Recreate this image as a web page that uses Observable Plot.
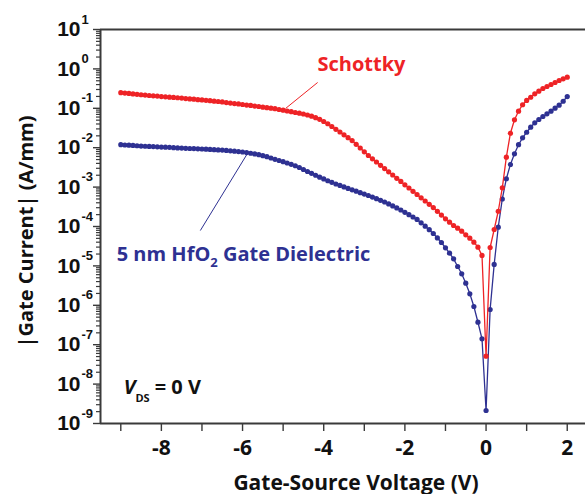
<!DOCTYPE html>
<html><head><meta charset="utf-8">
<script src="https://cdn.jsdelivr.net/npm/d3@7"></script>
<script src="https://cdn.jsdelivr.net/npm/@observablehq/plot@0.6"></script>
<style>
html,body{margin:0;padding:0;background:#fff;}
</style></head>
<body><div id="chart"></div>
<script>
// Gate-source voltage (V)
const voltage = [
 -9.0,-8.9,-8.8,-8.7,-8.6,-8.5,-8.4,-8.3,-8.2,-8.1,
 -8.0,-7.9,-7.8,-7.7,-7.6,-7.5,-7.4,-7.3,-7.2,-7.1,
 -7.0,-6.9,-6.8,-6.7,-6.6,-6.5,-6.4,-6.3,-6.2,-6.1,
 -6.0,-5.9,-5.8,-5.7,-5.6,-5.5,-5.4,-5.3,-5.2,-5.1,
 -5.0,-4.9,-4.8,-4.7,-4.6,-4.5,-4.4,-4.3,-4.2,-4.1,
 -4.0,-3.9,-3.8,-3.7,-3.6,-3.5,-3.4,-3.3,-3.2,-3.1,
 -3.0,-2.9,-2.8,-2.7,-2.6,-2.5,-2.4,-2.3,-2.2,-2.1,
 -2.0,-1.9,-1.8,-1.7,-1.6,-1.5,-1.4,-1.3,-1.2,-1.1,
 -1.0,-0.9,-0.8,-0.7,-0.6,-0.5,-0.4,-0.3,-0.2,-0.1,
 0.0,0.1,0.2,0.3,0.4,0.5,0.6,0.7,0.8,0.9,
 1.0,1.1,1.2,1.3,1.4,1.5,1.6,1.7,1.8,1.9,2.0
];
// |Gate current| (A/mm), Schottky gate
const schottky = [
 0.249,0.243,0.238,0.232,0.226,0.221,0.216,0.211,0.207,0.204,
 0.199,0.196,0.192,0.189,0.185,0.182,0.177,0.173,0.170,0.166,
 0.163,0.159,0.156,0.152,0.149,0.145,0.140,0.136,0.132,0.129,
 0.125,0.121,0.118,0.114,0.111,0.107,0.104,0.101,0.0977,0.0933,
 0.0895,0.0853,0.0820,0.0782,0.0751,0.0716,0.0676,0.0630,0.0577,0.0526,
 0.0462,0.0405,0.0345,0.0293,0.0250,0.0212,0.0180,0.0152,0.0122,0.00982,
 0.00787,0.00634,0.00522,0.00434,0.00357,0.00296,0.00244,0.00203,0.00167,0.00139,
 0.00114,0.000948,0.000782,0.000649,0.000535,0.000444,0.000366,0.000303,0.000243,0.000195,
 0.000157,0.000129,0.000106,9.06e-5,7.60e-5,6.15e-5,5.05e-5,4.00e-5,2.99e-5,1.84e-5,
 5.1e-8,2.93e-5,8.4e-5,2.44e-4,9.6e-4,5.74e-3,0.0233,0.0511,0.0844,0.123,
 0.158,0.191,0.233,0.272,0.318,0.357,0.402,0.452,0.508,0.561,0.615
];
// |Gate current| (A/mm), 5 nm HfO2 gate dielectric
const hfo2 = [
 0.0119,0.0117,0.0116,0.0114,0.0112,0.0110,0.0109,0.0108,0.0107,0.0105,
 0.0104,0.0103,0.0102,0.0100,0.00989,0.00977,0.00966,0.00955,0.00949,0.00938,
 0.00927,0.00916,0.00906,0.00890,0.00879,0.00869,0.00853,0.00834,0.00815,0.00796,
 0.00778,0.00752,0.00724,0.00697,0.00664,0.00627,0.00592,0.00548,0.00508,0.00473,
 0.00442,0.00409,0.00379,0.00348,0.00314,0.00280,0.00249,0.00224,0.00200,0.00179,
 0.00161,0.00145,0.00132,0.00120,0.00110,0.00101,0.000927,0.000853,0.000787,0.000721,
 0.000664,0.000612,0.000557,0.000508,0.000462,0.000419,0.000375,0.000333,0.000296,0.000262,
 0.000229,0.000200,0.000174,0.000151,0.000124,0.000102,8.30e-5,6.64e-5,5.14e-5,3.93e-5,
 2.88e-5,2.10e-5,1.51e-5,9.66e-6,6.30e-6,3.64e-6,1.96e-6,9.33e-7,3.72e-7,1.41e-7,
 2.14e-9,7.82e-7,1.09e-5,9.6e-5,4.99e-4,1.63e-3,3.75e-3,7.0e-3,0.0119,0.0178,
 0.0247,0.0331,0.0429,0.0520,0.0619,0.0724,0.0844,0.101,0.120,0.151,0.199
];
const xMajorTicks = [-8,-6,-4,-2,0,2];
const xMinorTicks = [-9,-7,-5,-3,-1,1];
const yDecades = [-9,-8,-7,-6,-5,-4,-3,-2,-1,0,1];
const yMinorMultipliers = [2,3,4,5,6,7,8,9];
const xLabel = "Gate-Source Voltage (V)";
const yLabel = "|Gate Current| (A/mm)";

const RED = "#ee2326", BLUE = "#2e3192", AX = "#3a3a3a";

const rows = voltage.flatMap((v, i) => [
  {V: v, I: hfo2[i], s: "HfO2"},
  {V: v, I: schottky[i], s: "Schottky"}
]);
const blueRows = rows.filter(d => d.s === "HfO2");
const redRows = rows.filter(d => d.s === "Schottky");
const minorY = yDecades.slice(0, -1).flatMap(k => yMinorMultipliers.map(m => m * 10 ** k));
const majorY = yDecades.map(k => 10 ** k);

const noteSchottky = [{text: "Schottky", V: -3.07, I: 1.3}];
const noteHfO2 = [{text: "5 nm HfO2 Gate Dielectric", V: -9.1, I: 1.9e-5}];
const noteVds = [{text: "VDS = 0 V", V: -8.93, I: 8.2e-9}];
const leaders = [
  {V1: -4.15, I1: 0.452, V2: -4.94, I2: 0.099, color: RED},
  {V1: -7.04, I1: 7.9e-5, V2: -5.88, I2: 7.1e-3, color: BLUE}
];

const chart = Plot.plot({
  width: 585, height: 494,
  marginLeft: 100, marginRight: 0, marginTop: 29, marginBottom: 71,
  style: {fontFamily: "'Open Sans', sans-serif", background: "#fff", overflow: "visible"},
  x: {domain: [-9.5, 2.45]},
  y: {type: "log", domain: [1e-9, 10]},
  marks: [
    Plot.axisY({ticks: minorY, tickSize: 4, tickFormat: () => "", stroke: AX, strokeWidth: 1.2, label: null}),
    Plot.axisY({ticks: majorY, tickSize: 7, tickFormat: () => "", stroke: AX, strokeWidth: 1.4, label: null}),
    Plot.axisX({ticks: [...xMajorTicks, ...xMinorTicks], tickSize: 8, tickPadding: 9,
      tickFormat: d => xMajorTicks.includes(d) ? String(d) : "",
      stroke: AX, strokeWidth: 1.4, fontSize: 21, fontWeight: "bold", fill: "#111", label: null}),
    Plot.ruleX([-9.5], {stroke: AX, strokeWidth: 2}),
    Plot.ruleY([1e-9], {stroke: AX, strokeWidth: 2}),
    Plot.ruleY([10], {stroke: AX, strokeWidth: 2}),
    Plot.text(yDecades, {y: d => 10 ** d, text: () => "10", frameAnchor: "left", textAnchor: "end",
      dx: -20, fontSize: 21, fontWeight: "bold", fontFamily: "'Liberation Sans', Arial, sans-serif", fill: "#111"}),
    Plot.text(yDecades, {y: d => 10 ** d, text: d => String(d), frameAnchor: "left", textAnchor: "start",
      dx: -19, dy: -10, fontSize: 13, fontWeight: "bold", fontFamily: "'Liberation Sans', Arial, sans-serif", fill: "#111"}),
    Plot.text([xLabel], {frameAnchor: "bottom", textAnchor: "middle", dx: 13, dy: 66, fontSize: 21, fontWeight: "bold", fill: "#111"}),
    Plot.text([yLabel], {frameAnchor: "left", textAnchor: "middle", rotate: -90, dx: -74, dy: 5, fontSize: 20, fontWeight: "bold", fill: "#111"}),
    Plot.link(leaders, {x1: "V1", y1: "I1", x2: "V2", y2: "I2", stroke: "color", strokeWidth: 1}),
    Plot.line(blueRows, {x: "V", y: "I", stroke: BLUE, strokeWidth: 1.3}),
    Plot.dot(blueRows, {x: "V", y: "I", r: 2.6, fill: BLUE}),
    Plot.line(redRows, {x: "V", y: "I", stroke: RED, strokeWidth: 1.3}),
    Plot.dot(redRows, {x: "V", y: "I", r: 2.6, fill: RED}),
    Plot.text(noteSchottky, {x: "V", y: "I", text: "text", fill: RED, textAnchor: "middle", fontSize: 20, fontWeight: "bold"}),
    Plot.text(noteHfO2, {x: "V", y: "I", text: "text", fill: BLUE, textAnchor: "start", fontSize: 20, fontWeight: "bold"}),
    Plot.text(noteVds, {x: "V", y: "I", text: "text", fill: "#111", textAnchor: "start", fontSize: 20, fontWeight: "bold"})
  ]
});

// rich-text fix-ups (subscripts)
d3.select(chart).selectAll("text").each(function() {
  const t = this.textContent;
  if (t === "5 nm HfO2 Gate Dielectric") {
    this.innerHTML = '5 nm HfO<tspan dy="6" font-size="13">2</tspan><tspan dy="-6"> Gate Dielectric</tspan>';
  } else if (t === "VDS = 0 V") {
    this.innerHTML = '<tspan font-style="italic">V</tspan><tspan dy="8" font-size="11">DS</tspan><tspan dy="-8" dx="5">= 0 V</tspan>';
  }
});
document.getElementById("chart").appendChild(chart);
</script>
</body></html>
